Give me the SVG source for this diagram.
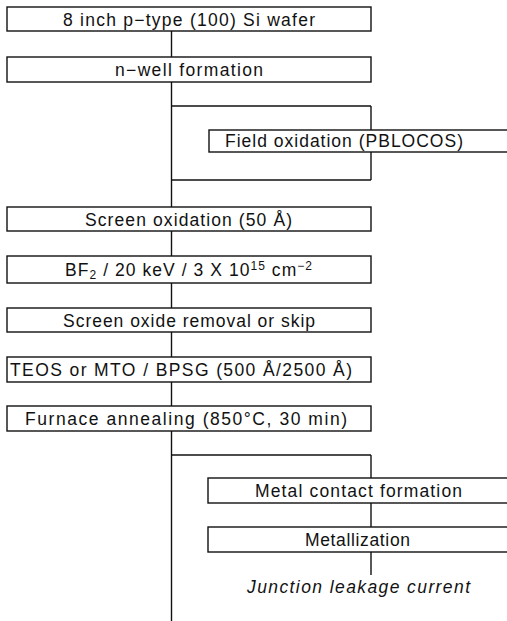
<svg xmlns="http://www.w3.org/2000/svg" width="507" height="621" viewBox="0 0 507 621">
<style>
rect{fill:#fff;stroke:#111;stroke-width:1.4}
.c line{stroke:#111;stroke-width:1.4;fill:none}
text{font-family:"Liberation Sans",Arial,sans-serif;font-size:17.5px;fill:#111}
.it{font-style:italic}
.s{font-size:12px}
</style>
<rect x="0" y="0" width="507" height="621" style="stroke:none;fill:#fff"/>
<g class="c" id="connectors">
<line x1="171.5" y1="31" x2="171.5" y2="57"/>
<line x1="171.5" y1="82" x2="171.5" y2="207"/>
<line x1="171.5" y1="106" x2="371" y2="106"/>
<line x1="371" y1="106" x2="371" y2="130"/>
<line x1="371" y1="152" x2="371" y2="180"/>
<line x1="171.5" y1="180" x2="371" y2="180"/>
<line x1="171.5" y1="231" x2="171.5" y2="256"/>
<line x1="171.5" y1="283" x2="171.5" y2="308"/>
<line x1="171.5" y1="332" x2="171.5" y2="357"/>
<line x1="171.5" y1="382" x2="171.5" y2="406"/>
<line x1="171.5" y1="431" x2="171.5" y2="621"/>
<line x1="171.5" y1="455" x2="371" y2="455"/>
<line x1="371" y1="455" x2="371" y2="478"/>
<line x1="371" y1="503" x2="371" y2="527"/>
<line x1="371" y1="552" x2="371" y2="575"/>
</g>
<g id="n1"><rect x="7" y="7" width="364" height="24"/><text x="63" y="25.5" textLength="252">8 inch p−type (100) Si wafer</text></g>
<g id="n2"><rect x="7" y="57" width="364" height="25"/><text x="115" y="76" textLength="148">n−well formation</text></g>
<g id="n3"><rect x="209" y="130" width="305" height="22"/><text x="225" y="147" textLength="238">Field oxidation (PBLOCOS)</text></g>
<g id="n4"><rect x="7" y="207" width="364" height="24"/><text x="85" y="226" textLength="207">Screen oxidation (50 Å)</text></g>
<g id="n5"><rect x="7" y="256" width="364" height="27"/><text x="65" y="276" textLength="247">BF<tspan class="s" dy="3">2</tspan><tspan dy="-3"> / 20 keV / 3 X 10</tspan><tspan class="s" dy="-6">15</tspan><tspan dy="6"> cm</tspan><tspan class="s" dy="-6">−2</tspan></text></g>
<g id="n6"><rect x="7" y="308" width="364" height="24"/><text x="63" y="327" textLength="252">Screen oxide removal or skip</text></g>
<g id="n7"><rect x="7" y="357" width="364" height="25"/><text x="10" y="376" textLength="342">TEOS or MTO / BPSG (500 Å/2500 Å)</text></g>
<g id="n8"><rect x="7" y="406" width="364" height="25"/><text x="25" y="425" textLength="322">Furnace annealing (850°C, 30 min)</text></g>
<g id="n9"><rect x="208" y="478" width="306" height="25"/><text x="255" y="497" textLength="207">Metal contact formation</text></g>
<g id="n10"><rect x="208" y="527" width="306" height="25"/><text x="305" y="546" textLength="105">Metallization</text></g>
<g id="n11"><text class="it" x="247" y="593" textLength="223">Junction leakage current</text></g>
</svg>
